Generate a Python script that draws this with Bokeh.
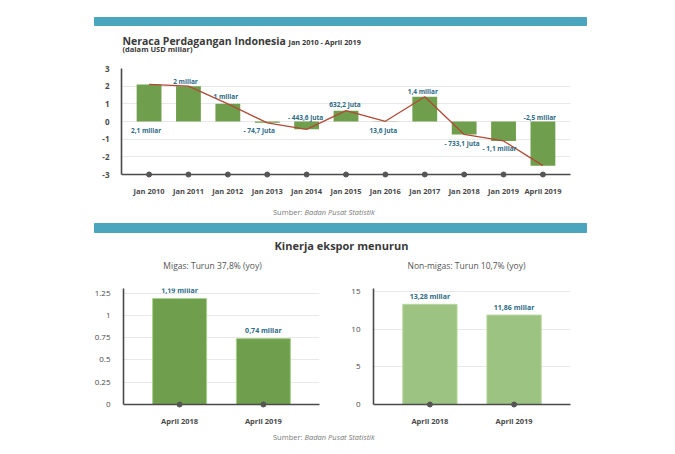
from bokeh.plotting import figure
from bokeh.models import Range1d, FixedTicker
from bokeh.layouts import column, row
from bokeh.embed import file_html
from bokeh.resources import INLINE
from bokeh.core.properties import value

# ---------------- data ----------------
periods = ["Jan 2010", "Jan 2011", "Jan 2012", "Jan 2013", "Jan 2014", "Jan 2015",
           "Jan 2016", "Jan 2017", "Jan 2018", "Jan 2019", "April 2019"]
balance = [2.1, 2.0, 1.0, -0.0747, -0.4436, 0.6122, 0.0136, 1.4, -0.7331, -1.1, -2.5]
balance_labels = ["2,1 miliar", "2 miliar", "1 miliar", "- 74,7 juta", "- 443,6 juta",
                  "632,2 juta", "13,6 juta", "1,4 miliar", "- 733,1 juta",
                  "- 1,1 miliar", "-2,5 miliar"]
top_ticks = [-3, -2, -1, 0, 1, 2, 3]

export_periods = ["April 2018", "April 2019"]
migas = [1.19, 0.74]
migas_labels = ["1,19 miliar", "0,74 miliar"]
migas_ticks = [0, 0.25, 0.5, 0.75, 1, 1.25]
migas_tick_labels = ["0", "0.25", "0.5", "0.75", "1", "1.25"]
nonmigas = [13.28, 11.86]
nonmigas_labels = ["13,28 miliar", "11,86 miliar"]
nonmigas_ticks = [0, 5, 10, 15]
nonmigas_tick_labels = ["0", "5", "10", "15"]

# label placement (pixel offsets, style only)
bal_x_off = [-3, -3, -2, -8, -1, -1, -2, -2, -2, -4, -3]
bal_y_off = [46, -5, -7, 8, -12, -6, 9, -5, 9, 8, -48]

# ---------------- styles ----------------
FONT = "Open Sans"
W = 675
TEXT_DARK = "#3a3a3a"
AXIS_COL = "#4a4a4a"
LABEL_COL = "#2d6b86"
GRID_COL = "#e8e8e8"
BANNER = "#4aa5bd"
BAR_DARK = "#6f9f4d"
BAR_LIGHT = "#9cc381"
LINE_COL = "#b04a36"
SRC_COL = "#7a7a7a"


def deco(h):
    p = figure(width=W, height=h, x_range=Range1d(0, W), y_range=Range1d(h, 0),
               output_backend="svg", toolbar_location=None, title=None,
               x_axis_type=None, y_axis_type=None, min_border=0,
               min_border_left=0, min_border_right=0, min_border_top=0,
               min_border_bottom=0)
    p.grid.visible = False
    p.outline_line_color = None
    return p


def txt(p, x, y, s, size, style="normal", color=TEXT_DARK, align="left"):
    p.text(x=[x], y=[y], text=[s], text_font=value(FONT), text_font_size=size,
           text_font_style=style, text_color=color, text_align=align,
           text_baseline="middle")


def source_line(p, y):
    txt(p, 302, y, "Sumber:", "7.5px", "normal", SRC_COL, "right")
    txt(p, 304, y, "Badan Pusat Statistik", "7.5px", "italic", SRC_COL, "left")


def style_axes(p, yticks, ylabels, xlabels, ysize="8px", ystand=6):
    p.xaxis.ticker = FixedTicker(ticks=list(range(len(xlabels))))
    p.xaxis.major_label_overrides = {i: s for i, s in enumerate(xlabels)}
    p.yaxis.ticker = FixedTicker(ticks=yticks)
    p.yaxis.major_label_overrides = {t: s for t, s in zip(yticks, ylabels)}
    for ax in (p.xaxis, p.yaxis):
        ax.axis_line_color = AXIS_COL
        ax.axis_line_width = 1.6
        ax.major_tick_line_color = None
        ax.minor_tick_line_color = None
        ax.major_label_text_font = FONT
        ax.major_label_text_color = AXIS_COL
    p.xaxis.major_label_text_font_size = "7.5px"
    p.xaxis.major_label_text_font_style = "bold"
    p.xaxis.major_label_standoff = 5
    p.yaxis.major_label_text_font_size = ysize
    p.yaxis.major_label_standoff = ystand
    p.xgrid.visible = False
    p.ygrid.grid_line_color = GRID_COL
    p.ygrid.ticker = FixedTicker(ticks=yticks)
    p.outline_line_color = None


# ---------------- header ----------------
header = deco(60)
header.quad(left=[94], right=[586], top=[17], bottom=[25], color=BANNER)
txt(header, 122, 40, "Neraca Perdagangan Indonesia", "10.5px", "bold")
txt(header, 288, 41, "Jan 2010 - April 2019", "7.3px", "bold")
txt(header, 122, 48, "(dalam USD miliar)", "7.5px", "bold")

# ---------------- top chart ----------------
idx = list(range(len(periods)))
top = figure(width=W, height=138, x_range=Range1d(-0.7, 10.7), y_range=Range1d(-3, 3),
             output_backend="svg", toolbar_location=None, title=None,
             min_border_left=121, min_border_right=105, min_border_top=8,
             min_border_bottom=22)
style_axes(top, top_ticks, [str(t) for t in top_ticks], periods, "8px", 6)
top.yaxis.major_label_text_font_style = "bold"
top.vbar(x=idx, top=balance, bottom=0, width=0.63, fill_color=BAR_DARK,
         line_color=None)
top.line(idx, balance, line_color=LINE_COL, line_width=1.3)
top.scatter(idx, [top.y_range.start] * len(idx), size=5, color="#555555",
            level="overlay")
top.text(x=idx, y=balance, text=balance_labels, x_offset=bal_x_off, y_offset=bal_y_off,
         text_font=value(FONT), text_font_size="6.5px", text_font_style="bold",
         text_color=LABEL_COL, text_align="center", text_baseline="middle")

# ---------------- middle decoration ----------------
mid = deco(77)
source_line(mid, 13)
mid.quad(left=[94], right=[586], top=[25], bottom=[34], color=BANNER)
txt(mid, 341, 47, "Kinerja ekspor menurun", "11px", "bold", TEXT_DARK, "center")
txt(mid, 212, 67, "Migas: Turun 37,8% (yoy)", "8.5px", "normal", "#555555", "center")
txt(mid, 466, 67, "Non-migas: Turun 10,7% (yoy)", "8.5px", "normal", "#555555", "center")


# ---------------- export charts ----------------
def export_chart(width, bl, br, ymax, vals, labels, ticks, tick_labels, color, edge):
    p = figure(width=width, height=153, x_range=Range1d(-0.67, 1.67),
               y_range=Range1d(0, ymax), output_backend="svg", toolbar_location=None,
               title=None, min_border_left=bl, min_border_right=br,
               min_border_top=13, min_border_bottom=18)
    style_axes(p, ticks, tick_labels, export_periods, "8px", 7)
    ex = list(range(len(export_periods)))
    p.vbar(x=ex, top=vals, bottom=0, width=0.645, fill_color=color, line_color=edge,
           line_width=1)
    p.scatter(ex, [0] * len(ex), size=5, color="#555555", level="overlay")
    p.text(x=ex, y=vals, text=labels, y_offset=-8, text_font=value(FONT),
           text_font_size="7px", text_font_style="bold", text_color=LABEL_COL,
           text_align="center", text_baseline="middle")
    return p


left = export_chart(330, 123, 11, 1.303, migas, migas_labels, migas_ticks,
                    migas_tick_labels, BAR_DARK, "#a9d18e")
right = export_chart(345, 43, 105, 15.38, nonmigas, nonmigas_labels, nonmigas_ticks,
                     nonmigas_tick_labels, BAR_LIGHT, "#b7d8a0")

# ---------------- footer ----------------
footer = deco(26)
source_line(footer, 8)

layout = column(header, row(top), mid, row(left, right), footer)
open("out.html", "w").write(file_html(layout, INLINE))
